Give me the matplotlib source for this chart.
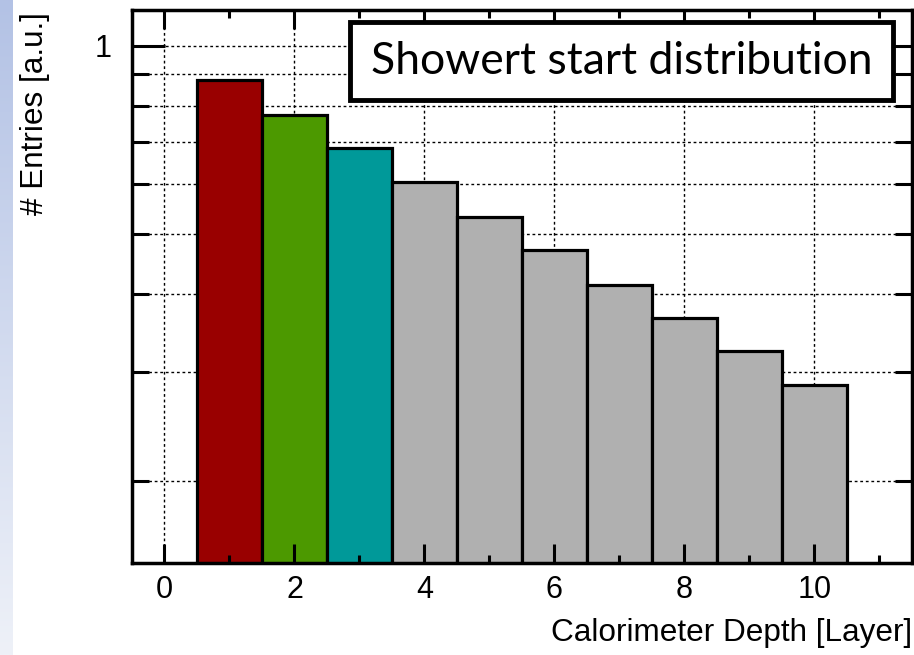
import numpy as np
import matplotlib
matplotlib.use("Agg")
import matplotlib.pyplot as plt
from matplotlib.patches import Rectangle
from matplotlib.ticker import NullFormatter

# --- data ---
layers = [1, 2, 3, 4, 5, 6, 7, 8, 9, 10]
entries = [0.882, 0.775, 0.687, 0.604, 0.532, 0.470, 0.414, 0.366, 0.324, 0.286]
bar_colors = ['#990000', '#4c9900', '#009999'] + ['#b0b0b0'] * 7
x_major = [0, 2, 4, 6, 8, 10]
x_minor = [1, 3, 5, 7, 9, 11]
y_major = [1]
y_minor = [0.2, 0.3, 0.4, 0.5, 0.6, 0.7, 0.8, 0.9]

plt.rcParams['font.family'] = ['Liberation Sans', 'DejaVu Sans']

fig = plt.figure(figsize=(9.14, 6.55), dpi=100)

# slide background strip on the left
bg = fig.add_axes([0, 0, 0.0135, 1])
grad = np.linspace(0, 1, 256).reshape(-1, 1)
bg.imshow(grad, aspect='auto', cmap=matplotlib.colors.LinearSegmentedColormap.from_list(
    'strip', ['#b3c2e5', '#eef1f8']), extent=[0, 1, 0, 1])
bg.axis('off')

ax = fig.add_axes([0.1444, 0.1405, 0.8534, 0.8442])
ax.set_yscale('log')
ax.set_xlim(-0.5, 11.5)
ax.set_ylim(0.148, 1.142)

# grid behind bars
for xv in x_major:
    ax.axvline(xv, color='black', ls=(0, (2, 2)), lw=1.0, zorder=0.5)
for yv in y_major + y_minor:
    ax.axhline(yv, color='black', ls=(0, (2, 2)), lw=1.0, zorder=0.5)

ax.bar(layers, entries, width=1.0, color=bar_colors, edgecolor='black',
       linewidth=2.3, zorder=1)

ax.set_xticks(x_major)
ax.set_xticks(x_minor, minor=True)
ax.set_yticks(y_major)
ax.set_yticks(y_minor, minor=True)
ax.yaxis.set_minor_formatter(NullFormatter())
ax.set_yticklabels(['1'])

ax.tick_params(axis='x', which='major', direction='in', length=14, width=2.2,
               top=True, labelsize=22, pad=9)
ax.tick_params(axis='x', which='minor', direction='in', length=6, width=2.2, top=True)
ax.tick_params(axis='y', which='major', direction='in', length=24, width=2.2,
               right=True, labelsize=22, pad=15)
ax.tick_params(axis='y', which='minor', direction='in', length=12, width=2.2, right=True)
for s in ax.spines.values():
    s.set_linewidth(2.5)

ax.set_xlabel('Calorimeter Depth [Layer]', fontsize=22.7, loc='right', labelpad=9)
ax.set_ylabel('# Entries [a.u.]', fontsize=22.7, loc='top')
ax.yaxis.set_label_coords(-0.105, 0.996)

# title box
ax.add_patch(Rectangle((0.2795, 0.837), 0.696, 0.141, transform=ax.transAxes,
                       facecolor='white', edgecolor='black', linewidth=3.5, zorder=5))
ax.text(0.6275, 0.9075, 'Showert start distribution', transform=ax.transAxes,
        ha='center', va='center', fontsize=32, family=['Lato', 'DejaVu Sans'], zorder=6)

fig.savefig('out.png', dpi=100)
